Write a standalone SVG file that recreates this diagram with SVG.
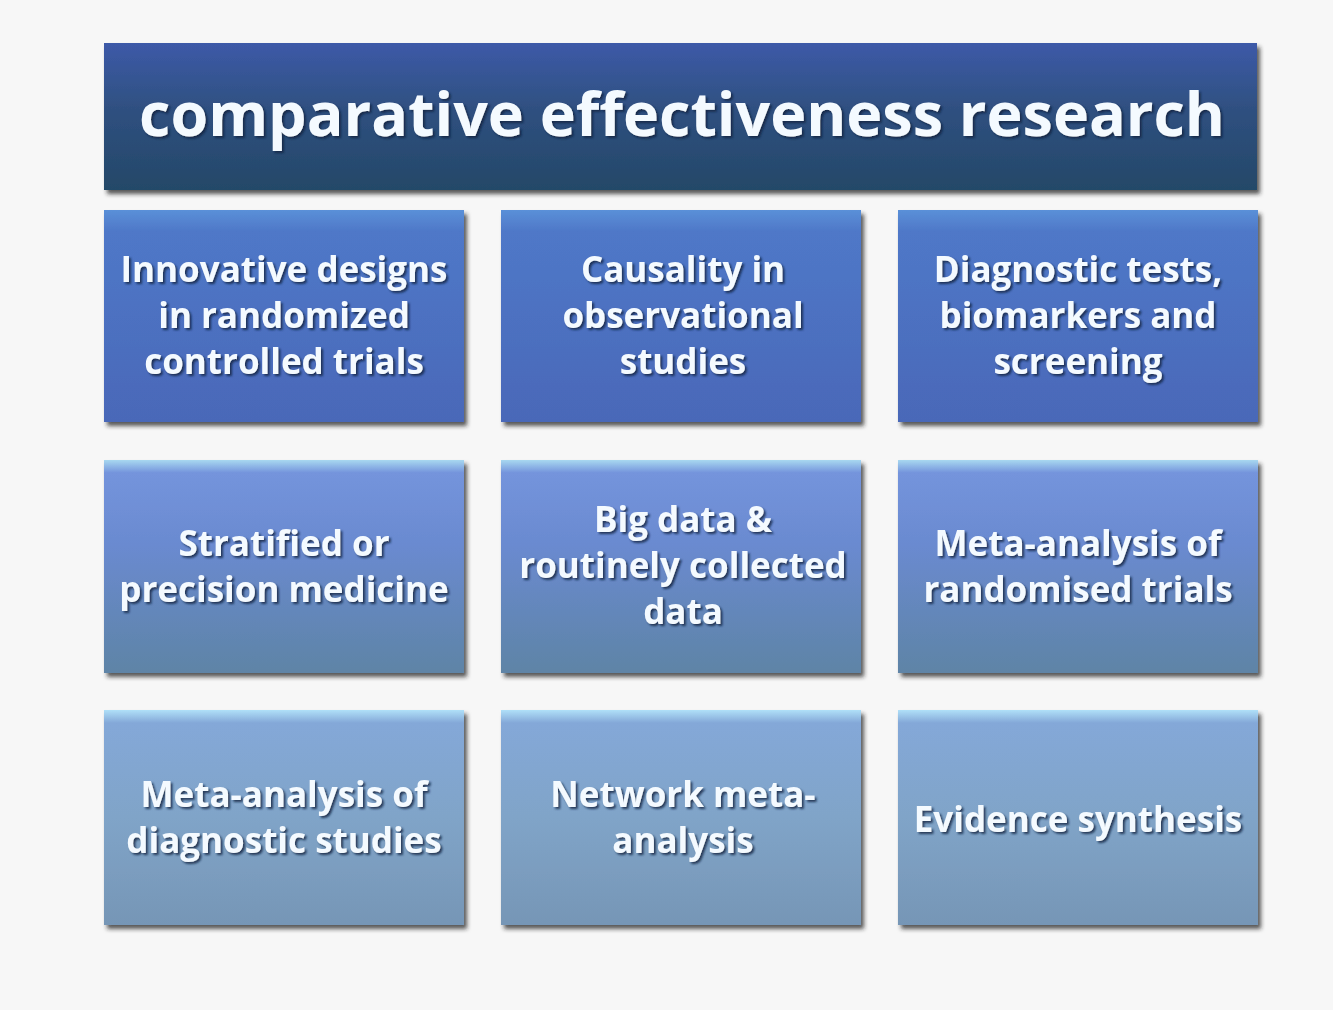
<svg xmlns="http://www.w3.org/2000/svg" width="1333" height="1010" viewBox="0 0 1333 1010">
<defs>
<linearGradient id="gTitle" x1="0" y1="0" x2="0" y2="1">
<stop offset="0" stop-color="#3d5aa8"/><stop offset="0.45" stop-color="#2f5080"/><stop offset="1" stop-color="#244868"/>
</linearGradient>
<linearGradient id="gR1" x1="0" y1="0" x2="0" y2="1">
<stop offset="0" stop-color="#5a90d8"/><stop offset="0.1" stop-color="#4f78c8"/><stop offset="1" stop-color="#4a68b8"/>
</linearGradient>
<linearGradient id="gR2" x1="0" y1="0" x2="0" y2="1">
<stop offset="0" stop-color="#a8d8f0"/><stop offset="0.06" stop-color="#7494dc"/><stop offset="0.4" stop-color="#6a8ad0"/><stop offset="1" stop-color="#5e84a6"/>
</linearGradient>
<linearGradient id="gR3" x1="0" y1="0" x2="0" y2="1">
<stop offset="0" stop-color="#b0e0f8"/><stop offset="0.06" stop-color="#84a8d8"/><stop offset="0.5" stop-color="#80a4c8"/><stop offset="1" stop-color="#7696b6"/>
</linearGradient>
<filter id="sh" x="-5%" y="-5%" width="112%" height="115%">
<feDropShadow dx="3" dy="4" stdDeviation="2" flood-color="#202020" flood-opacity="0.75"/>
</filter>
<filter id="ts" x="-5%" y="-20%" width="110%" height="140%">
<feDropShadow dx="2" dy="2" stdDeviation="1" flood-color="#102040" flood-opacity="0.8"/>
</filter>
</defs>
<style>
.t{font-family:"Open Sans","Liberation Sans",sans-serif;font-weight:bold;fill:#f4faff;text-anchor:middle;filter:url(#ts)}
.b{font-size:35px}
.title{font-size:61px}
</style>
<rect width="1333" height="1010" fill="#f7f7f7"/>
<g id="title">
<rect x="104" y="43" width="1153" height="147" fill="url(#gTitle)" filter="url(#sh)"/>
<text class="t title" x="682" y="136">comparative effectiveness research</text>
</g>
<g id="n1">
<rect x="104" y="210" width="360" height="212" fill="url(#gR1)" filter="url(#sh)"/>
<text class="t b" x="284" y="282">Innovative designs</text>
<text class="t b" x="284" y="328">in randomized</text>
<text class="t b" x="284" y="374">controlled trials</text>
</g>
<g id="n2">
<rect x="501" y="210" width="360" height="212" fill="url(#gR1)" filter="url(#sh)"/>
<text class="t b" x="683" y="282">Causality in</text>
<text class="t b" x="683" y="328">observational</text>
<text class="t b" x="683" y="374">studies</text>
</g>
<g id="n3">
<rect x="898" y="210" width="360" height="212" fill="url(#gR1)" filter="url(#sh)"/>
<text class="t b" x="1078" y="282">Diagnostic tests,</text>
<text class="t b" x="1078" y="328">biomarkers and</text>
<text class="t b" x="1078" y="374">screening</text>
</g>
<g id="n4">
<rect x="104" y="460" width="360" height="213" fill="url(#gR2)" filter="url(#sh)"/>
<text class="t b" x="284" y="556">Stratified or</text>
<text class="t b" x="284" y="602">precision medicine</text>
</g>
<g id="n5">
<rect x="501" y="460" width="360" height="213" fill="url(#gR2)" filter="url(#sh)"/>
<text class="t b" x="683" y="532">Big data &amp;</text>
<text class="t b" x="683" y="578">routinely collected</text>
<text class="t b" x="683" y="624">data</text>
</g>
<g id="n6">
<rect x="898" y="460" width="360" height="213" fill="url(#gR2)" filter="url(#sh)"/>
<text class="t b" x="1078" y="556">Meta-analysis of</text>
<text class="t b" x="1078" y="602">randomised trials</text>
</g>
<g id="n7">
<rect x="104" y="710" width="360" height="215" fill="url(#gR3)" filter="url(#sh)"/>
<text class="t b" x="284" y="807">Meta-analysis of</text>
<text class="t b" x="284" y="853">diagnostic studies</text>
</g>
<g id="n8">
<rect x="501" y="710" width="360" height="215" fill="url(#gR3)" filter="url(#sh)"/>
<text class="t b" x="683" y="807">Network meta-</text>
<text class="t b" x="683" y="853">analysis</text>
</g>
<g id="n9">
<rect x="898" y="710" width="360" height="215" fill="url(#gR3)" filter="url(#sh)"/>
<text class="t b" x="1078" y="832">Evidence synthesis</text>
</g>
<g id="connectors"/>
</svg>
